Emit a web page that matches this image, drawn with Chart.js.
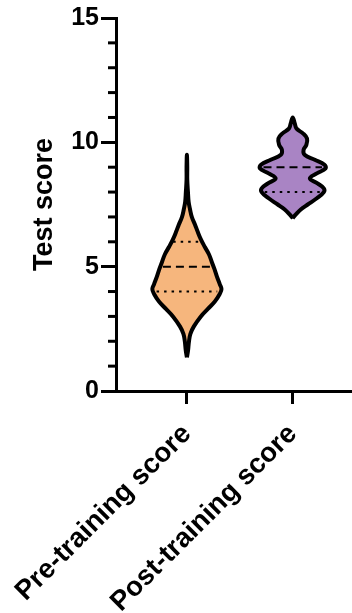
<!DOCTYPE html>
<html>
<head>
<meta charset="utf-8">
<script src="https://cdn.jsdelivr.net/npm/chart.js@4/dist/chart.umd.min.js"></script>
<style>
  body { margin: 0; background: #fff; }
  canvas { display: block; }
</style>
</head>
<body>
<canvas id="violin" width="352" height="613"></canvas>
<script>
const categories = ["Pre-training score", "Post-training score"];

// density profile of each violin (score level -> relative half width)
const preLevels = [1.35, 1.6, 2.0, 2.3, 2.6, 3.0, 3.3, 3.6, 3.9, 4.1, 4.3, 4.6, 4.9, 5.2, 5.5, 5.8, 6.1, 6.4, 6.7, 7.0, 7.3, 7.6, 8.0, 8.5, 9.0, 9.5];
const preDensity = [0, 0.03, 0.06, 0.1, 0.2, 0.4, 0.6, 0.8, 0.94, 0.99, 0.94, 0.86, 0.79, 0.71, 0.63, 0.51, 0.4, 0.31, 0.23, 0.14, 0.09, 0.05, 0.03, 0.01, 0.01, 0];
const postLevels = [6.95, 7.1, 7.3, 7.5, 7.75, 8.0, 8.15, 8.35, 8.55, 8.75, 8.95, 9.1, 9.3, 9.5, 9.7, 9.9, 10.15, 10.35, 10.55, 10.75, 11.0];
const postDensity = [0, 0.09, 0.23, 0.43, 0.69, 0.89, 0.89, 0.71, 0.49, 0.69, 0.94, 0.91, 0.63, 0.34, 0.31, 0.39, 0.41, 0.3, 0.11, 0.06, 0];

// Q1, median, Q3
const preQuartiles = [4, 5, 6];
const postQuartiles = [8, 9, 9];

const yTicks = [0, 5, 10, 15];

const HALF = 0.33; // max half width in x units
const fillColors = ["#F6B67D", "#A984C4"];
const FONT = "'Liberation Sans', Arial, sans-serif";

const groups = [
  { levels: preLevels, density: preDensity, quartiles: preQuartiles },
  { levels: postLevels, density: postDensity, quartiles: postQuartiles },
];

function outline(pos, levels, dens) {
  const right = levels.map((v, i) => ({ x: pos + dens[i] * HALF, y: v }));
  const left = levels.map((v, i) => ({ x: pos - dens[i] * HALF, y: v })).reverse().slice(1);
  return right.concat(left);
}

function widthAt(levels, dens, q) {
  for (let i = 1; i < levels.length; i++) {
    if (q <= levels[i]) {
      const t = (q - levels[i - 1]) / (levels[i] - levels[i - 1]);
      return dens[i - 1] + t * (dens[i] - dens[i - 1]);
    }
  }
  return 0;
}

const datasets = [];
groups.forEach((g, gi) => {
  const pos = gi + 1;
  datasets.push({
    data: outline(pos, g.levels, g.density),
    borderColor: "#000",
    borderWidth: 4,
    backgroundColor: fillColors[gi],
    fill: "shape",
    tension: 0.4,
    pointRadius: 0,
    borderJoinStyle: "round",
    order: 2,
  });
  g.quartiles.forEach((q, qi) => {
    if (qi === 2 && q === g.quartiles[1]) return; // Q3 hidden under median
    const w = widthAt(g.levels, g.density, q) * HALF * 0.9;
    datasets.push({
      data: [{ x: pos - w, y: q }, { x: pos + w, y: q }],
      borderColor: "#000",
      borderWidth: 2,
      borderDash: qi === 1 ? [8, 5] : [2.5, 5],
      pointRadius: 0,
      fill: false,
      order: 1,
    });
  });
});

const minorTicks = {
  id: "minorTicks",
  afterDraw(chart) {
    const y = chart.scales.y;
    const ctx = chart.ctx;
    const x0 = chart.chartArea.left;
    ctx.save();
    ctx.strokeStyle = "#000";
    ctx.lineWidth = 3;
    for (let v = y.min; v <= y.max; v++) {
      if (yTicks.includes(v)) continue;
      const py = y.getPixelForValue(v);
      ctx.beginPath();
      ctx.moveTo(x0 - 8, py);
      ctx.lineTo(x0, py);
      ctx.stroke();
    }
    ctx.restore();
  },
};

new Chart(document.getElementById("violin"), {
  type: "line",
  data: { datasets: datasets },
  options: {
    responsive: false,
    animation: false,
    devicePixelRatio: 1,
    layout: { padding: { top: 18, left: 0, right: 0, bottom: 0 } },
    plugins: { legend: { display: false }, tooltip: { enabled: false } },
    scales: {
      x: {
        type: "linear",
        min: 0.33,
        max: 2.56,
        border: { color: "#000", width: 3 },
        grid: { drawOnChartArea: false, color: "#000", tickLength: 13, tickWidth: 3 },
        afterBuildTicks: (s) => { s.ticks = categories.map((c, i) => ({ value: i + 1 })); },
        ticks: {
          callback: (v) => categories[v - 1],
          minRotation: 45,
          maxRotation: 45,
          autoSkip: false,
          color: "#000",
          padding: 14,
          font: { family: FONT, size: 27.5, weight: "bold" },
        },
        afterFit: (s) => { s.height = 222; s.paddingLeft = 0; s.paddingRight = 0; },
      },
      y: {
        min: 0,
        max: 15,
        border: { color: "#000", width: 3 },
        grid: { drawOnChartArea: false, color: "#000", tickLength: 15, tickWidth: 3 },
        afterBuildTicks: (s) => { s.ticks = yTicks.map((v) => ({ value: v })); },
        ticks: {
          color: "#000",
          padding: 2,
          font: { family: FONT, size: 25, weight: "bold" },
        },
        title: {
          display: true,
          text: "Test score",
          color: "#000",
          padding: { top: 28, bottom: 0 },
          font: { family: FONT, size: 27, weight: "bold" },
        },
        afterFit: (s) => { s.width = 116; s.paddingTop = 0; s.paddingBottom = 0; },
      },
    },
  },
  plugins: [minorTicks],
});
</script>
</body>
</html>
